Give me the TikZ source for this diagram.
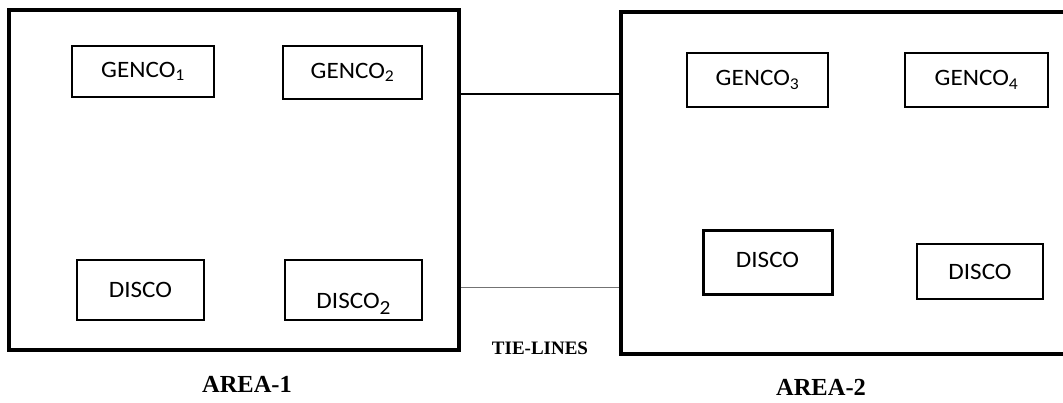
\documentclass[tikz,border=0pt]{standalone}
\usepackage{fontspec}
\newfontfamily\boxfont[FakeStretch=1.07]{Carlito}
\newfontfamily\capfont{Liberation Serif}

\begin{document}
\begin{tikzpicture}[x=1pt, y=-1pt,
  areabox/.style={draw, line width=3.2pt, inner sep=0pt},
  unitbox/.style={draw, line width=2.6pt, inner sep=0pt, font=\boxfont\fontsize{23.5}{24}\selectfont},
  areatext/.style={font=\capfont\bfseries\fontsize{24.5}{25}\selectfont}]
\useasboundingbox (0, 0) rectangle (1063, 402);
\clip (0, 0) rectangle (1063, 402);
\node[areabox, minimum width=450pt, minimum height=340pt] (area1) at (234, 180) {};
\node[areabox, minimum width=445pt, minimum height=342pt] (area2) at (843.5, 183) {};
\node[unitbox, minimum width=142pt, minimum height=51pt] (genco1) at (143, 71.5) {GENCO\textsubscript{1}};
\node[unitbox, minimum width=139pt, minimum height=53pt] (genco2) at (352.5, 72.5) {GENCO\textsubscript{2}};
\node[unitbox, minimum width=127pt, minimum height=60pt] (disco1) at (140.5, 290) {DISCO};
\node[unitbox, line width=1.6pt, minimum width=137pt, minimum height=60pt] (disco2) at (353.5, 290)
  {\raisebox{-18pt}[0pt][0pt]{DISCO\raisebox{-6pt}{\fontsize{20}{20}\selectfont 2}}};
\node[unitbox, minimum width=141pt, minimum height=54pt] (genco3) at (757.5, 80) {GENCO\textsubscript{3}};
\node[unitbox, line width=3pt, minimum width=129pt, minimum height=64pt] (disco3) at (767.5, 262) {\raisebox{4pt}{DISCO}};
\node[unitbox, minimum width=143pt, minimum height=54pt] (genco4) at (976.5, 80) {GENCO\textsubscript{4}};
\node[unitbox, line width=2pt, minimum width=126pt, minimum height=55pt] (disco4) at (980, 271.5) {DISCO};
\coordinate (tieA) at (540, 94);
\coordinate (tieB) at (540, 287);
\draw[line width=2pt] (area1.east |- tieA) -- (area2.west |- tieA);
\draw[line width=1pt, black!55] (area1.east |- tieB) -- (area2.west |- tieB);
\node[font=\capfont\bfseries\fontsize{19}{19}\selectfont] (tielabel) at (540, 348) {TIE-LINES};
\node[areatext] (area1label) at (247, 384) {AREA-1};
\node[areatext] (area2label) at (821, 387) {AREA-2};
\end{tikzpicture}
\end{document}
